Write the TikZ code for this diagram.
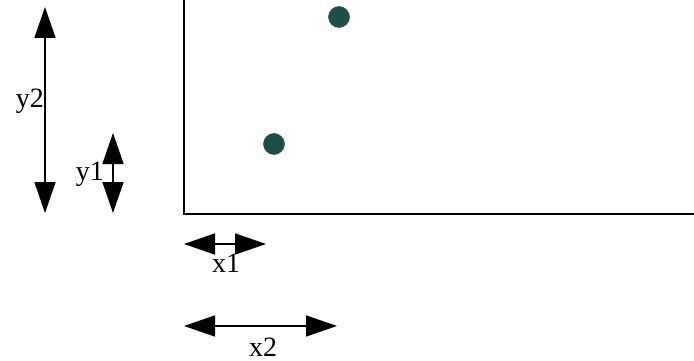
\documentclass[tikz,border=0pt]{standalone}
\usepackage{fontspec}
\setmainfont{Liberation Serif}
\usetikzlibrary{arrows.meta}
\definecolor{dotcol}{HTML}{1B4F4A}
\tikzset{
  dim/.style={line width=1.6pt, {Triangle[length=31pt,width=21pt]}-{Triangle[length=31pt,width=21pt]}},
  axis/.style={line width=1.6pt},
  dot/.style={circle, fill=dotcol, draw=black!70, line width=0.6pt, minimum size=21pt, inner sep=0pt},
  lbl/.style={font=\fontsize{28}{28}\selectfont, inner sep=0pt}
}
\begin{document}
\begin{tikzpicture}[x=1pt,y=-1pt]
\useasboundingbox (0,0) rectangle (694,361);
% axes
\coordinate (top) at (184,0);
\coordinate (origin) at (184,214);
\coordinate (right) at (694,214);
\draw[axis] (top) -- (origin) -- (right);
% points
\node[dot] (p1) at (274,144) {};
\node[dot] (p2) at (339,17) {};
% y2
\coordinate (y2a) at (45,7);
\coordinate (y2b) at (45,213);
\draw[dim] (y2a) -- (y2b);
\node[lbl, anchor=east] (ly2) at (44,101) {y2};
% y1
\coordinate (y1a) at (113,133);
\coordinate (y1b) at (113,213);
\draw[dim] (y1a) -- (y1b);
\node[lbl, anchor=east] (ly1) at (104,174) {y1};
% x1
\coordinate (x1a) at (184,244);
\coordinate (x1b) at (266,244);
\draw[dim] (x1a) -- (x1b);
\node[lbl] (lx1) at (226,263) {x1};
% x2
\coordinate (x2a) at (184,326);
\coordinate (x2b) at (337,326);
\draw[dim] (x2a) -- (x2b);
\node[lbl] (lx2) at (263,347) {x2};
\end{tikzpicture}
\end{document}
